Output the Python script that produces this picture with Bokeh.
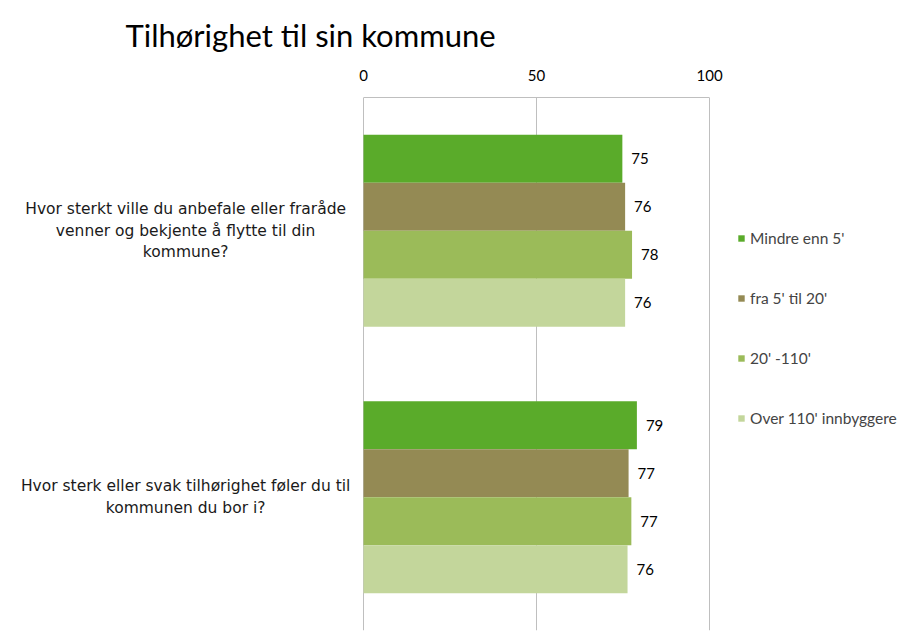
from bokeh.plotting import figure
from bokeh.models import (Range1d, Legend, LegendItem, ColumnDataSource,
                          LabelSet, FixedTicker)
from bokeh.core.properties import value
from bokeh.embed import file_html
from bokeh.resources import INLINE

title = "Tilhørighet til sin kommune"
questions = [
    "Hvor sterkt ville du anbefale eller fraråde\nvenner og bekjente å flytte til din\nkommune?",
    "Hvor sterk eller svak tilhørighet føler du til\nkommunen du bor i?",
]
series = ["Mindre enn 5'", "fra 5' til 20'", "20' -110'", "Over 110' innbyggere"]
colors = ["#5AAB2A", "#948A54", "#9BBB59", "#C3D69B"]
mindre_enn_5 = [74.8, 79.0]
fra_5_til_20 = [75.6, 76.6]
fra_20_til_110 = [77.6, 77.4]
over_110 = [75.6, 76.3]
values = [mindre_enn_5, fra_5_til_20, fra_20_til_110, over_110]
x_ticks = [0, 50, 100]

W, H = 907, 633
p = figure(width=W, height=H, output_backend="svg", toolbar_location=None,
           x_range=Range1d(-104.9, 157.2), y_range=Range1d(0, 2),
           x_axis_location="above",
           min_border_left=0, min_border_right=0, min_border_top=97,
           min_border_bottom=3)
p.outline_line_color = None
p.yaxis.visible = False
p.ygrid.grid_line_color = None
p.xgrid.grid_line_color = "#BFBFBF"
p.xgrid.ticker = FixedTicker(ticks=x_ticks)
p.xaxis.ticker = FixedTicker(ticks=x_ticks)
p.xaxis.bounds = (0, 100)
p.xaxis.axis_line_color = "#BFBFBF"
p.xaxis.major_tick_line_color = None
p.xaxis.minor_tick_line_color = None
p.xaxis.major_label_text_font = "Lato"
p.xaxis.major_label_text_font_size = "15px"
p.xaxis.major_label_text_color = "#000000"
p.xaxis.major_label_standoff = 11

p.title.text = title
p.title.align = "left"
p.title.offset = 125
p.title.text_font = "Lato"
p.title.text_font_size = "31px"
p.title.text_font_style = "normal"
p.title.text_color = "#000000"
p.title.standoff = 25

nq = len(questions)
centers = [nq - i - 0.5 for i in range(nq)]
bar_h = 0.18
items = []
for j, (name, vals, col) in enumerate(zip(series, values, colors)):
    off = 0.27 - bar_h * j
    src = ColumnDataSource(dict(
        y=[c + off for c in centers], v=vals,
        lab=[str(int(round(v))) for v in vals]))
    r = p.hbar(y="y", right="v", left=0, height=bar_h, source=src,
               fill_color=col, line_color=None)
    items.append(LegendItem(label=name, renderers=[r]))
    p.add_layout(LabelSet(x="v", y="y", text="lab", source=src, x_offset=9,
                          text_baseline="middle", text_font=value("Lato"),
                          text_font_size="15px", text_color="#000000"))

qsrc = ColumnDataSource(dict(x=[-51.4] * nq, y=centers, t=questions))
p.text(x="x", y="y", text="t", source=qsrc, text_align="center",
       text_baseline="middle", text_font=value("DejaVu Sans"),
       text_font_size="15.5px", text_line_height=1.2, text_color="#1a1a1a")

legend = Legend(items=items, location=(737, 202), border_line_color=None,
                background_fill_alpha=0, padding=0, margin=0,
                glyph_width=8, glyph_height=8, label_height=20, spacing=40,
                label_standoff=5, label_text_font="Lato",
                label_text_font_size="15.5px")
p.add_layout(legend)

open("out.html", "w").write(file_html(p, INLINE))
